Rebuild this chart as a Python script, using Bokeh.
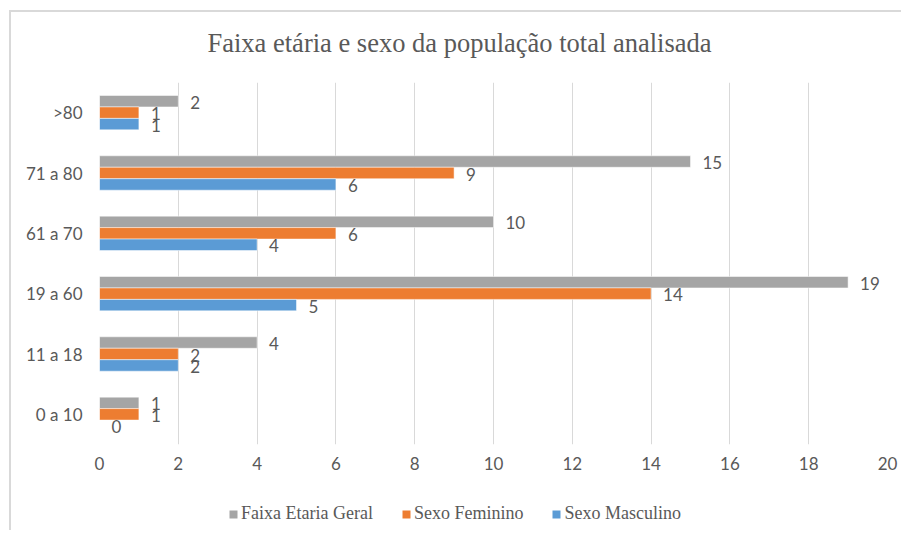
from bokeh.plotting import figure
from bokeh.layouts import column
from bokeh.models import (ColumnDataSource, FactorRange, Range1d, FixedTicker, Legend,
                          LegendItem, LabelSet, Label)
from bokeh.core.properties import value
from bokeh.transform import dodge
from bokeh.embed import file_html
from bokeh.resources import INLINE

categories = ["0 a 10", "11 a 18", "19 a 60", "61 a 70", "71 a 80", ">80"]
geral = [1, 4, 19, 10, 15, 2]
feminino = [1, 2, 14, 6, 9, 1]
masculino = [0, 2, 5, 4, 6, 1]
x_ticks = [0, 2, 4, 6, 8, 10, 12, 14, 16, 18, 20]

series_names = ["Faixa Etaria Geral", "Sexo Feminino", "Sexo Masculino"]
series_values = [geral, feminino, masculino]
series_colors = ["#A5A5A5", "#ED7D31", "#5B9BD5"]
series_dodge = [0.19, 0.0, -0.19]
chart_title = "Faixa etária e sexo da população total analisada"

TEXT = "#595959"
SANS = "Lato"
SERIF = "Liberation Serif"
BORDER = "2px solid #d9d9d9"
W = 892

# ---- title strip ----
pt = figure(width=W, height=60, output_backend="svg", toolbar_location=None,
            x_range=Range1d(0, 1), y_range=Range1d(0, 1), x_axis_type=None, y_axis_type=None,
            min_border=0)
pt.styles = {"margin-left": "9px", "margin-top": "10px",
             "border-top": BORDER, "border-left": BORDER}
pt.outline_line_color = None
pt.grid.visible = False
pt.add_layout(Label(x=360, y=30, x_units="screen", y_units="screen", text=chart_title,
                    text_align="center", text_baseline="middle", text_font=SERIF,
                    text_font_size="26.5px", text_color=TEXT))

# ---- main chart ----
p = figure(width=W, height=418, output_backend="svg", toolbar_location=None,
           y_range=FactorRange(factors=categories, range_padding=0),
           x_range=Range1d(0, 20),
           min_border_left=88, min_border_right=16, min_border_top=12, min_border_bottom=44)
p.styles = {"margin-left": "9px", "border-left": BORDER}
p.outline_line_color = None
p.background_fill_color = "white"
p.border_fill_color = "white"

for name, vals, col, dg in zip(series_names, series_values, series_colors, series_dodge):
    src = ColumnDataSource(dict(cat=categories, val=vals, txt=[str(v) for v in vals]))
    p.hbar(y=dodge("cat", dg, range=p.y_range), right="val", left=0, height=0.19,
           source=src, fill_color=col, line_color="white", line_width=0.5)
    labels = LabelSet(x="val", y=dodge("cat", dg, range=p.y_range), text="txt", source=src,
                      x_offset=12, y_offset=-1, text_align="left", text_baseline="middle",
                      text_font=value(SANS), text_font_size="17px", text_color=TEXT)
    p.add_layout(labels)

p.xaxis.ticker = FixedTicker(ticks=x_ticks)
p.xgrid.ticker = FixedTicker(ticks=x_ticks)
p.xgrid.grid_line_color = "#d9d9d9"
p.ygrid.grid_line_color = None
for ax in (p.xaxis, p.yaxis):
    ax.axis_line_color = None
    ax.major_tick_line_color = None
    ax.minor_tick_line_color = None
    ax.major_label_text_font = SANS
    ax.major_label_text_font_size = "17px"
    ax.major_label_text_color = TEXT
p.xaxis.major_label_standoff = 6
p.yaxis.major_label_standoff = 11

# ---- legend strip ----
pl = figure(width=W, height=42, output_backend="svg", toolbar_location=None,
            x_range=Range1d(0, 1), y_range=Range1d(0, 1), x_axis_type=None, y_axis_type=None,
            min_border=0)
pl.styles = {"margin-left": "9px", "border-left": BORDER}
pl.outline_line_color = None
pl.grid.visible = False
leg_renderers = []
for name, col in zip(series_names, series_colors):
    # zero-size placeholder outside the view; only its legend swatch is shown
    r = pl.hbar(y=[-5], right=[0], left=0, height=0.1, fill_color=col, line_color=None)
    leg_renderers.append(r)

legend = Legend(items=[LegendItem(label=n, renderers=[r]) for n, r in zip(series_names, leg_renderers)],
                orientation="horizontal", location=(129, 6), glyph_width=10, glyph_height=10,
                label_text_font=SERIF, label_text_font_size="18px", label_text_color=TEXT,
                spacing=28, label_standoff=3, border_line_color=None,
                background_fill_alpha=0, padding=0, margin=0)
pl.add_layout(legend, "center")

layout = column(pt, p, pl, spacing=0)
open("out.html", "w").write(file_html(layout, INLINE))
